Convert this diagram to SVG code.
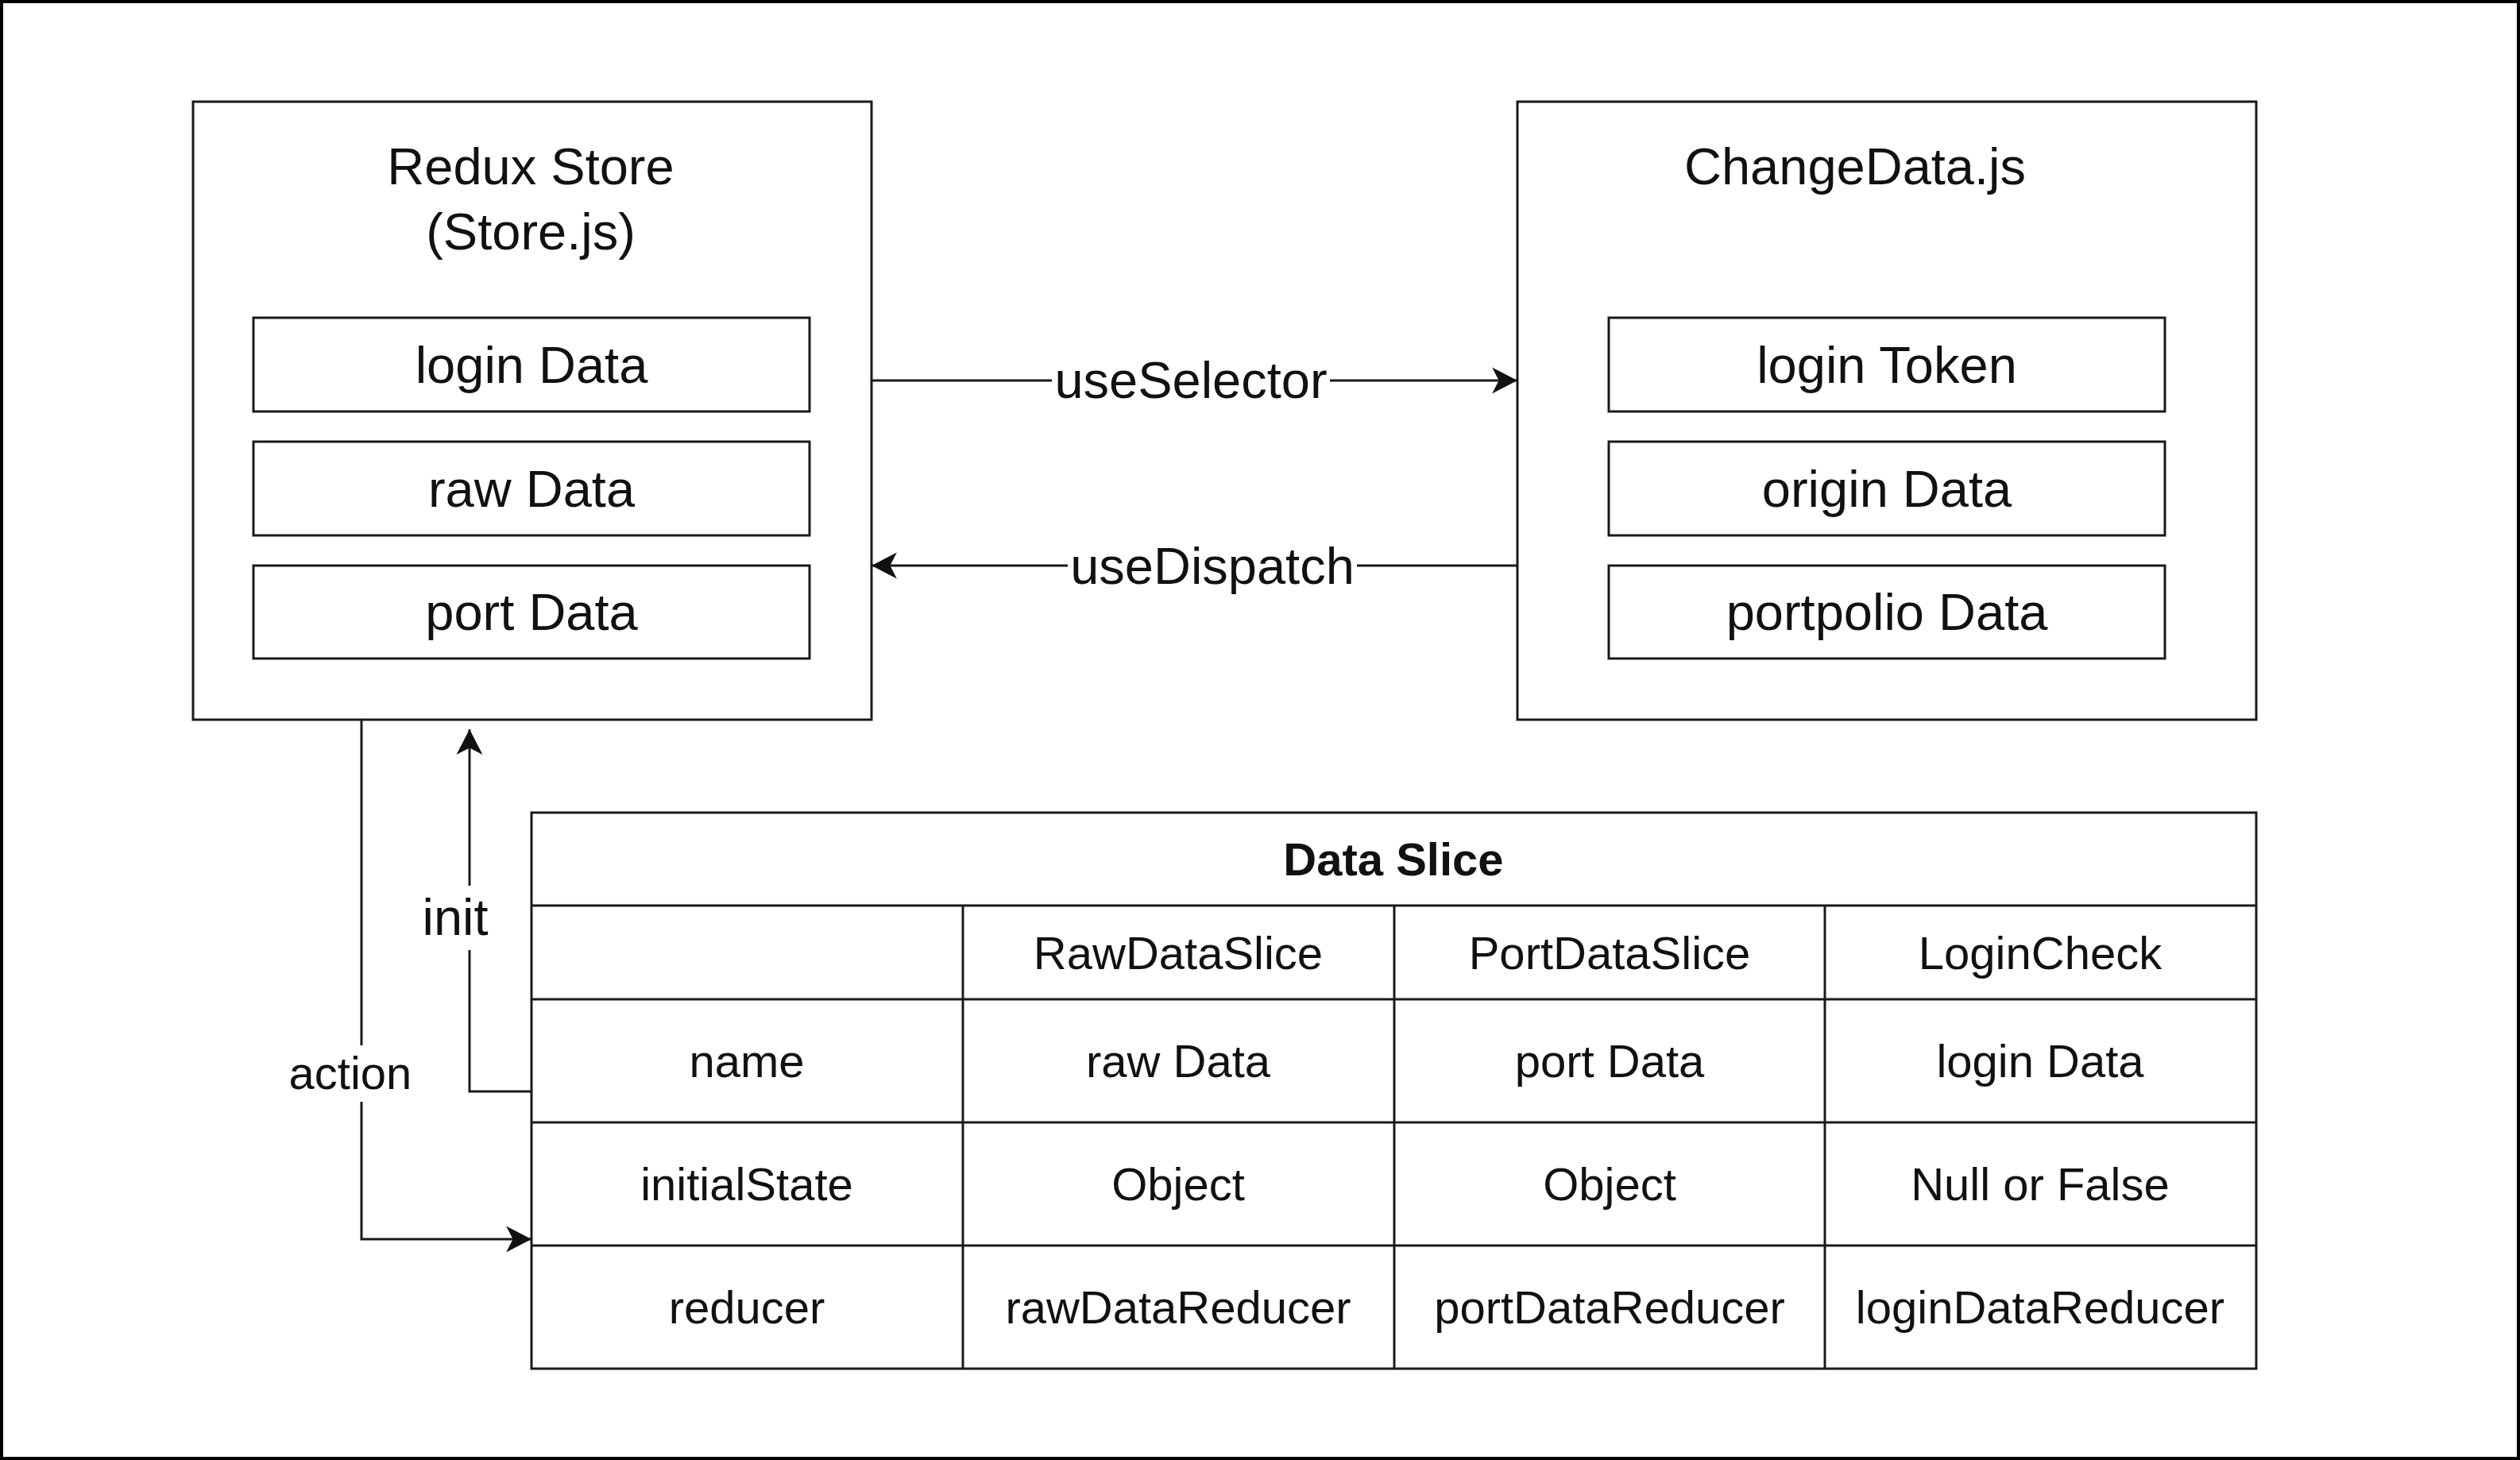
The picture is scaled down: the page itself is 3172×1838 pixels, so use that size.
<svg xmlns="http://www.w3.org/2000/svg" width="3172" height="1838" viewBox="0 0 3172 1838">
<style>
.box{fill:#fff;stroke:#1a1a1a;stroke-width:3}
.t{font-family:"Liberation Sans",Arial,Helvetica,sans-serif;fill:#111;text-anchor:middle}
.big{font-size:65px}
.tb{font-size:58px}
.bold{font-weight:bold}
.edge{fill:none;stroke:#1a1a1a;stroke-width:3}
.lblbg{fill:#fff;stroke:none}
</style>
<defs>
<marker id="arr" markerUnits="userSpaceOnUse" markerWidth="34" markerHeight="34" viewBox="0 0 32 32" refX="30" refY="16" orient="auto">
<path d="M0,0.5 L30,16 L0,31.5 L8,16 Z" fill="#111"/>
</marker>
</defs>
<rect x="0" y="0" width="3172" height="1838" fill="#fff"/>
<rect x="2" y="2" width="3168" height="1834" fill="none" stroke="#000" stroke-width="4"/>

<g id="redux-store">
<rect class="box" x="243" y="128" width="854" height="778"/>
<text class="t big" x="668" y="232">Redux Store</text>
<text class="t big" x="668" y="314">(Store.js)</text>
<rect class="box" x="319" y="400" width="700" height="118"/>
<text class="t big" x="669" y="482">login Data</text>
<rect class="box" x="319" y="556" width="700" height="118"/>
<text class="t big" x="669" y="638">raw Data</text>
<rect class="box" x="319" y="712" width="700" height="117"/>
<text class="t big" x="669" y="793">port Data</text>
</g>

<g id="change-data">
<rect class="box" x="1910" y="128" width="930" height="778"/>
<text class="t big" x="2335" y="232">ChangeData.js</text>
<rect class="box" x="2025" y="400" width="700" height="118"/>
<text class="t big" x="2375" y="482">login Token</text>
<rect class="box" x="2025" y="556" width="700" height="118"/>
<text class="t big" x="2375" y="638">origin Data</text>
<rect class="box" x="2025" y="712" width="700" height="117"/>
<text class="t big" x="2375" y="793">portpolio Data</text>
</g>

<g id="data-slice">
<rect class="box" x="669" y="1023" width="2171" height="700"/>
<path class="edge" d="M669,1140 H2840 M669,1258 H2840 M669,1413 H2840 M669,1568 H2840 M1212,1140 V1723 M1755,1140 V1723 M2297,1140 V1723"/>
<text class="t tb bold" x="1754" y="1102">Data Slice</text>
<text class="t tb" x="1483" y="1220">RawDataSlice</text>
<text class="t tb" x="2026" y="1220">PortDataSlice</text>
<text class="t tb" x="2568" y="1220">LoginCheck</text>
<text class="t tb" x="940" y="1356">name</text>
<text class="t tb" x="1483" y="1356">raw Data</text>
<text class="t tb" x="2026" y="1356">port Data</text>
<text class="t tb" x="2568" y="1356">login Data</text>
<text class="t tb" x="940" y="1511">initialState</text>
<text class="t tb" x="1483" y="1511">Object</text>
<text class="t tb" x="2026" y="1511">Object</text>
<text class="t tb" x="2568" y="1511">Null or False</text>
<text class="t tb" x="940" y="1666">reducer</text>
<text class="t tb" x="1483" y="1666">rawDataReducer</text>
<text class="t tb" x="2026" y="1666">portDataReducer</text>
<text class="t tb" x="2568" y="1666">loginDataReducer</text>
</g>

<g id="connectors">
<g id="edge-useSelector">
<path class="edge" d="M1097,479 H1910" marker-end="url(#arr)"/>
<rect class="lblbg" x="1324" y="450" width="350" height="70"/>
<text class="t big" x="1499" y="501">useSelector</text>
</g>
<g id="edge-useDispatch">
<path class="edge" d="M1910,712 H1097" marker-end="url(#arr)"/>
<rect class="lblbg" x="1344" y="682" width="364" height="72"/>
<text class="t big" x="1526" y="735">useDispatch</text>
</g>
<g id="edge-action">
<path class="edge" d="M455,906 V1560 H669" marker-end="url(#arr)"/>
<rect class="lblbg" x="362" y="1316" width="158" height="71"/>
<text class="t tb" x="441" y="1371">action</text>
</g>
<g id="edge-init">
<path class="edge" d="M669,1374 H591 V918" marker-end="url(#arr)"/>
<rect class="lblbg" x="530" y="1115" width="88" height="81"/>
<text class="t big" x="573" y="1177">init</text>
</g>
</g>
</svg>
